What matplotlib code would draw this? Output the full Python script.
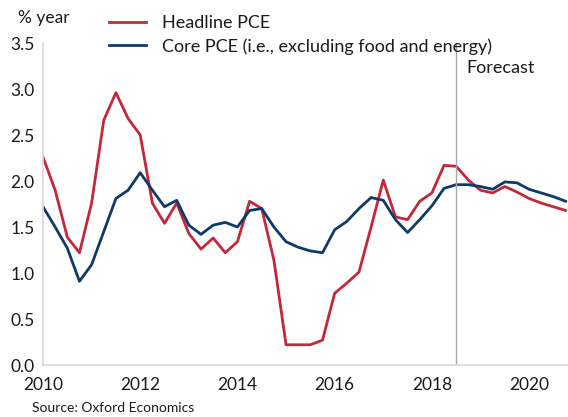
import matplotlib
matplotlib.use("Agg")
import matplotlib.pyplot as plt
import numpy as np

quarters = [2010 + 0.25 * i for i in range(44)]
headline = [2.26, 1.90, 1.39, 1.22, 1.76, 2.66, 2.96, 2.68, 2.50, 1.76, 1.54, 1.76,
            1.43, 1.26, 1.38, 1.22, 1.34, 1.78, 1.70, 1.14, 0.22, 0.22, 0.22, 0.27,
            0.78, 0.89, 1.01, 1.50, 2.01, 1.61, 1.58, 1.78, 1.87, 2.17, 2.16, 2.01,
            1.90, 1.87, 1.94, 1.88, 1.81, 1.76, 1.72, 1.68]
core = [1.72, 1.50, 1.27, 0.91, 1.09, 1.45, 1.81, 1.90, 2.09, 1.90, 1.72, 1.79,
        1.52, 1.42, 1.52, 1.55, 1.50, 1.68, 1.70, 1.50, 1.34, 1.28, 1.24, 1.22,
        1.47, 1.56, 1.70, 1.82, 1.79, 1.58, 1.44, 1.58, 1.73, 1.92, 1.96, 1.96,
        1.94, 1.91, 1.99, 1.98, 1.91, 1.87, 1.83, 1.78]
forecast_start = 2018.5
x_ticks = [2010, 2012, 2014, 2016, 2018, 2020]
y_ticks = [0.0, 0.5, 1.0, 1.5, 2.0, 2.5, 3.0, 3.5]

plt.rcParams['font.family'] = ['Lato', 'DejaVu Sans']

W, H = 568, 417
fig = plt.figure(figsize=(W / 100, H / 100), dpi=100)
ax = fig.add_axes([43 / W, (H - 365) / H, 525 / W, 322 / H])

red = "#c3283a"
navy = "#0f3a68"
l1, = ax.plot(quarters, headline, color=red, lw=2.0, label="Headline PCE")
l2, = ax.plot(quarters, core, color=navy, lw=2.0, label="Core PCE (i.e., excluding food and energy)")
ax.axvline(forecast_start, color="#a6a6a6", lw=1.0)

ax.set_xlim(2010, 2020.8)
ax.set_ylim(0, 3.5)
ax.set_xticks(x_ticks)
ax.set_yticks(y_ticks)
ax.set_yticklabels([f"{v:.1f}" for v in y_ticks])
ax.tick_params(length=0, labelsize=12.5, colors="#1a1a1a")
ax.tick_params(axis="x", pad=9)
ax.tick_params(axis="y", pad=6)
for s in ["top", "right"]:
    ax.spines[s].set_visible(False)
for s in ["left", "bottom"]:
    ax.spines[s].set_color("#d9d9d9")
    ax.spines[s].set_linewidth(1.2)

fig.text(18 / W, 1 - 18 / H, "% year", fontsize=12.5, va="center", ha="left", color="#1a1a1a")
fig.text(466 / W, 1 - 68 / H, "Forecast", fontsize=13, va="center", ha="left", color="#1a1a1a")
fig.text(32 / W, 1 - 408 / H, "Source: Oxford Economics", fontsize=10, va="center", ha="left", color="#1a1a1a")

fig.legend(handles=[l1, l2], loc="upper left", bbox_to_anchor=(100 / W, 1 - 6 / H),
           frameon=False, fontsize=13, handlelength=2.05, handletextpad=0.9,
           labelspacing=0.4, borderpad=0, labelcolor="#1a1a1a")

fig.savefig("out.png", dpi=100)
